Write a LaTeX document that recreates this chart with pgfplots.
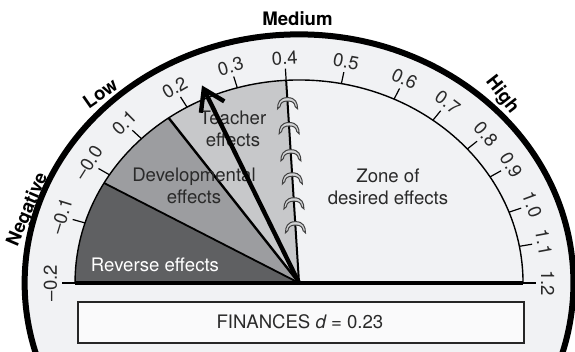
\documentclass[border=0pt]{standalone}
\usepackage{fontspec}
\setmainfont{TeX Gyre Heros}
\usepackage{pgfplots}
\usepackage{pgfplotstable}
\pgfplotsset{compat=1.18}
\usetikzlibrary{arrows.meta}

\definecolor{bgc}{HTML}{F1F2F4}
\definecolor{revc}{HTML}{5F6062}
\definecolor{devc}{HTML}{9C9DA0}
\definecolor{teac}{HTML}{C7C8CA}
\definecolor{boxc}{HTML}{FAFAFB}
\definecolor{txt}{HTML}{2A2A2A}

% scale: value -> angle on the dial (read off the picture)
\pgfplotstableread{
val ang lab
-0.2 180 –0.2
-0.1 162.8 –0.1
0.0 147.8 –0.0
0.1 134.7 0.1
0.2 120 0.2
0.3 106 0.3
0.4 93.3 0.4
0.5 79.1 0.5
0.6 64.9 0.6
0.7 53.3 0.7
0.8 41.3 0.8
0.9 31.5 0.9
1.0 20.4 1.0
1.1 10.4 1.1
1.2 0 1.2
}\dialticks

\pgfdeclareplotmark{springclip}{%
  \pgfpathmoveto{\pgfpoint{-5pt}{-3pt}}
  \pgfpathcurveto{\pgfpoint{-5pt}{0pt}}{\pgfpoint{-4pt}{2.6pt}}{\pgfpoint{0pt}{2.6pt}}
  \pgfpathcurveto{\pgfpoint{4pt}{2.6pt}}{\pgfpoint{5pt}{0pt}}{\pgfpoint{5pt}{-3pt}}
  \pgfpathlineto{\pgfpoint{3.8pt}{-1.9pt}}
  \pgfpathcurveto{\pgfpoint{3.5pt}{0pt}}{\pgfpoint{2.5pt}{0.9pt}}{\pgfpoint{0pt}{0.9pt}}
  \pgfpathcurveto{\pgfpoint{-2.5pt}{0.9pt}}{\pgfpoint{-3.5pt}{0pt}}{\pgfpoint{-3.8pt}{-1.9pt}}
  \pgfpathclose
  \pgfusepathqfillstroke}

\begin{document}
\begin{tikzpicture}[font=\fontsize{9.3}{11}\selectfont]
\begin{axis}[
  x=112pt, y=101.5pt,
  xmin=-1.335, xmax=1.232,
  ymin=-0.340, ymax=1.394,
  hide axis,
  clip=true,
]
% dial background
\fill[bgc] (axis cs:0,0) ellipse[x radius=137.2pt, y radius=124.3pt];

% zones
\addplot[fill=revc, draw=none, data cs=polar] coordinates {(0,0) (180,1.1) (150.5,1.1)} -- cycle;
\addplot[fill=devc, draw=none, data cs=polar] coordinates {(0,0) (150.5,1.1) (125.6,1.1)} -- cycle;
\addplot[fill=teac, draw=none, data cs=polar] coordinates {(0,0) (125.6,1.1) (109,1.1) (93.3,1.1)} -- cycle;
\addplot[fill=bgc, draw=none, data cs=polar] coordinates {(0,0) (93.3,1.1) (70,1.1) (46,1.1) (23,1.1) (0,1.1)} -- cycle;

% ring of the scale
\fill[bgc, even odd rule] (axis cs:0,0) ellipse[x radius=137.2pt, y radius=124.3pt]
  (axis cs:0,0) ellipse[x radius=112pt, y radius=101.5pt];

% zone borders
\addplot[black, line width=0.9pt, data cs=polar] coordinates {(0,0) (150.5,1)};
\addplot[black, line width=1.2pt, data cs=polar] coordinates {(0,0) (125.6,1)};
\addplot[black, line width=1pt, data cs=polar] coordinates {(0,0) (93.3,1)};

\draw[line width=0.7pt] (axis cs:1,0) arc[start angle=0, end angle=180, x radius=112pt, y radius=101.5pt];
\addplot[black, line width=1.8pt] coordinates {(-1,0) (1,0)};

% ticks
\pgfplotsinvokeforeach{180,162.8,147.8,134.7,120,106,93.3,79.1,64.9,53.3,41.3,31.5,20.4,10.4,0}{
  \addplot[black, line width=0.6pt, data cs=polar] coordinates {(#1,1) (#1,1.058)};
}
\addplot[draw=none, mark=none,
  data cs=polar, point meta=explicit symbolic,
  nodes near coords,
  visualization depends on={\thisrow{ang}-90 \as \rot},
  every node near coord/.append style={anchor=center, rotate=\rot, text=txt, inner sep=0pt}]
  table[x=ang, y expr=1.11, meta=lab] {\dialticks};

\draw[black, line width=3pt] (axis cs:0,0) ellipse[x radius=137.2pt, y radius=124.3pt];

% category words
\node[font=\fontsize{9.3}{11}\selectfont\bfseries] at (axis cs:-0.007,1.303) {Medium};
\node[font=\fontsize{9.3}{11}\selectfont\bfseries, rotate=35] at (axis cs:-0.888,0.936) {Low};
\node[font=\fontsize{9.3}{11}\selectfont\bfseries, rotate=-52] at (axis cs:0.906,0.926) {High};
\node[font=\fontsize{9.3}{11}\selectfont\bfseries, rotate=67] at (axis cs:-1.21,0.36) {Negative};

% zone names
\node[text=white] at (axis cs:-0.643,0.089) {Reverse effects};
\node[text=txt, align=center] at (axis cs:-0.469,0.478) {Developmental\\effects};
\node[text=txt, align=center] at (axis cs:-0.295,0.759) {Teacher\\effects};
\node[text=txt, align=center] at (axis cs:0.397,0.473) {Zone of\\desired effects};

% value box
\draw[fill=boxc, line width=1pt, draw=black!85] (axis cs:-0.987,-0.094) rectangle (axis cs:1.004,-0.296);
\node[text=txt] at (axis cs:0.004,-0.192) {FINANCES {\itshape d} = 0.23};

% clips on the 0.4 hinge
\addplot[only marks, mark=springclip, mark options={fill=teac!80, draw=black!75, line width=0.5pt}, data cs=polar]
  coordinates {(93.3,0.889) (93.3,0.766) (93.3,0.632) (93.3,0.518) (93.3,0.395) (93.3,0.277)};

% needle, d = 0.23
\addplot[black, line width=2.2pt, -{Straight Barb[length=10pt, width=13pt]}, data cs=polar]
  coordinates {(0,0) (114,1.065)};
\end{axis}
\pgfresetboundingbox
\useasboundingbox (current axis.south west) rectangle (current axis.north east);
\end{tikzpicture}
\end{document}
